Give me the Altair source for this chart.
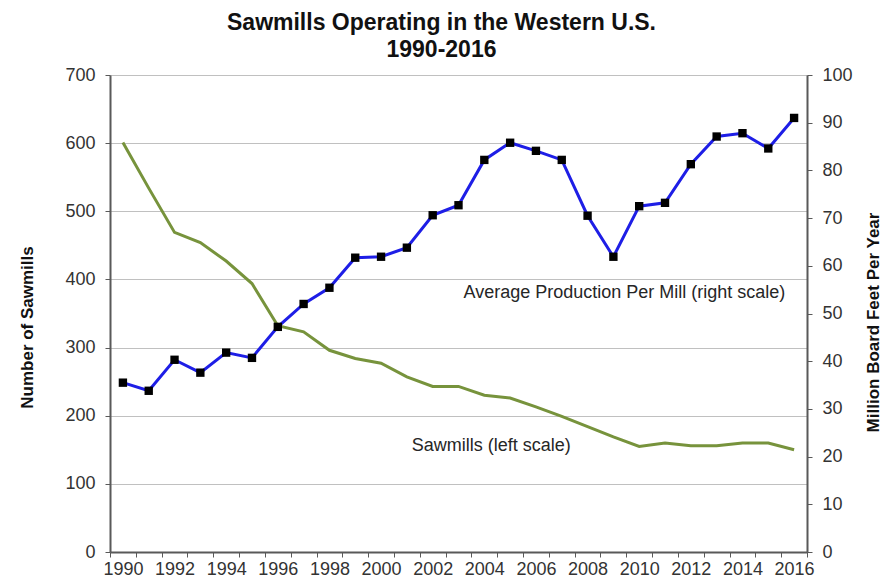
import altair as alt
import pandas as pd

years = list(range(1990, 2017))
sawmills = [601, 534, 469, 454, 427, 394, 332, 323, 296, 284, 277, 257, 243, 243,
            230, 226, 213, 199, 184, 169, 155, 160, 156, 156, 160, 160, 150]
production = [35.5, 33.8, 40.3, 37.6, 41.8, 40.7, 47.2, 52.0, 55.4, 61.7, 61.9, 63.8,
              70.6, 72.7, 82.2, 85.8, 84.1, 82.2, 70.5, 61.9, 72.5, 73.2, 81.3, 87.1,
              87.8, 84.6, 91.0]

left_note = "Sawmills (left scale)"
left_note_year = 2004
left_note_value = 156
right_note = "Average Production Per Mill  (right scale)"
right_note_year = 2003
right_note_value = 54.2

FONT = "Liberation Sans"

df = pd.DataFrame({"year": years, "sawmills": sawmills, "production": production})
df_left_note = pd.DataFrame({"year": [left_note_year], "v": [left_note_value], "t": [left_note]})
df_right_note = pd.DataFrame({"year": [right_note_year], "v": [right_note_value], "t": [right_note]})

x_axis = alt.Axis(
    title=None, tickBand="extent", labelExpr="datum.value % 2 === 0 ? datum.label : ''",
    labelAngle=0, labelOverlap=False, labelFontSize=18, labelColor="#333333",
    labelFont=FONT, tickSize=5, tickColor="#595959", domainColor="#595959",
    domainWidth=2, labelPadding=3, grid=False,
)
x_scale = alt.Scale(type="band", paddingInner=0, paddingOuter=0, domain=years)

left_axis = alt.Axis(
    title="Number of Sawmills", values=[0, 100, 200, 300, 400, 500, 600, 700],
    grid=True, gridColor="#C0C0C0", gridWidth=1, tickSize=5, tickColor="#595959",
    domainColor="#595959", domainWidth=2, labelFontSize=18, labelColor="#333333",
    labelFont=FONT, labelPadding=10, titleFont=FONT, titleFontSize=17,
    titleFontWeight="bold", titleColor="#111111", titleAngle=270,
    titleX=-83, titleY=252, titleAlign="center", titleBaseline="middle",
)
right_axis = alt.Axis(
    title="Million Board Feet Per Year", orient="right",
    values=[0, 10, 20, 30, 40, 50, 60, 70, 80, 90, 100],
    grid=False, tickSize=5, tickColor="#595959",
    domainColor="#595959", domainWidth=2, labelFontSize=18, labelColor="#333333",
    labelFont=FONT, labelPadding=10, titleFont=FONT, titleFontSize=17,
    titleFontWeight="bold", titleColor="#111111", titleAngle=270,
    titleX=66, titleY=247, titleAlign="center", titleBaseline="middle",
)
left_scale = alt.Scale(domain=[0, 700], nice=False)
right_scale = alt.Scale(domain=[0, 100], nice=False)

def X():
    return alt.X("year:O", scale=x_scale, axis=x_axis, bandPosition=0.5)

green = alt.Chart(df).mark_line(color="#77933C", strokeWidth=3).encode(
    x=X(), y=alt.Y("sawmills:Q", scale=left_scale, axis=left_axis)
)
green_text = alt.Chart(df_left_note).mark_text(
    font=FONT, fontSize=18, color="#262626", align="center", baseline="middle", dx=7
).encode(x=X(), y=alt.Y("v:Q", scale=left_scale, axis=left_axis), text="t:N")

blue = alt.Chart(df).mark_line(color="#1E1EE6", strokeWidth=3).encode(
    x=X(), y=alt.Y("production:Q", scale=right_scale, axis=right_axis)
)
blue_pts = alt.Chart(df).mark_square(color="#000000", size=70, opacity=1).encode(
    x=X(), y=alt.Y("production:Q", scale=right_scale, axis=right_axis)
)
blue_text = alt.Chart(df_right_note).mark_text(
    font=FONT, fontSize=18, color="#262626", align="left", baseline="middle", dx=5
).encode(x=X(), y=alt.Y("v:Q", scale=right_scale, axis=right_axis), text="t:N")

left_layer = alt.layer(green, green_text)
right_layer = alt.layer(blue, blue_pts, blue_text)

chart = alt.layer(left_layer, right_layer).resolve_scale(y="independent").properties(
    width=697, height=477,
    title=alt.TitleParams(
        text=["Sawmills Operating in the Western U.S.", "1990-2016"],
        font=FONT, fontSize=23, fontWeight="bold", color="#111111",
        anchor="middle", dx=-17, offset=4, lineHeight=27,
    ),
    autosize=alt.AutoSizeParams(type="none"),
    padding={"left": 102, "top": 67, "right": 76, "bottom": 30},
).configure_view(stroke="#808080", strokeWidth=2).configure(background="white")

chart.save("out.html", embed_options={"renderer": "svg", "actions": False})
